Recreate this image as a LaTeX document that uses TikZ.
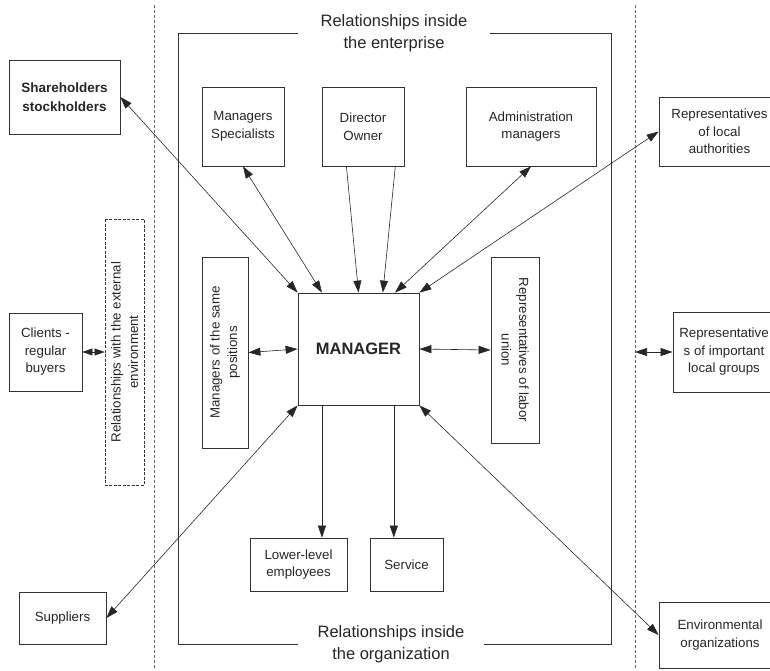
\documentclass[tikz,border=0pt]{standalone}
\usepackage{fontspec}
\setmainfont{Liberation Sans}
\usetikzlibrary{arrows.meta,calc}

\begin{document}
\begin{tikzpicture}[
    x=1pt, y=-1pt,
    font=\fontsize{13.3}{17.5}\selectfont,
    text=black!85,
    box/.style={rectangle, draw=black!80, line width=0.8pt,
      align=center, inner sep=2pt},
    title/.style={font=\fontsize{16.5}{21.5}\selectfont,
      align=center, inner sep=0pt},
    frame/.style={draw=black!80, line width=0.8pt},
    border/.style={draw=black!60, line width=0.6pt, dash pattern=on 3pt off 2pt},
    arr/.style={-{Triangle[length=12pt,width=8pt]}, line width=0.6pt, draw=black!85},
    darr/.style={{Triangle[length=12pt,width=8pt]}-{Triangle[length=12pt,width=8pt]},
      line width=0.6pt, draw=black!85},
    sarr/.style={{Triangle[length=10pt,width=7pt]}-{Triangle[length=10pt,width=7pt]},
      line width=0.6pt, draw=black!85}
  ]
    \useasboundingbox (0,0) rectangle (770,670);

    \coordinate (ltop) at (154,5);
    \coordinate (lbot) at (154,670);
    \coordinate (rtop) at (635,5);
    \coordinate (rbot) at (635,670);
    \draw[border] (ltop) -- (lbot);
    \draw[border] (rtop) -- (rbot);

    \node[title, minimum width=192pt] (tent) at (394,33) {Relationships inside\\the enterprise};
    \node[title, minimum width=186pt] (torg) at (391,644) {Relationships inside\\the organization};
    \draw[frame] (tent.west) -- (178,33) -- (178,644) -- (torg.west);
    \draw[frame] (tent.east) -- (611,33) -- (611,644) -- (torg.east);

    \node[box, font=\fontsize{13.5}{18.5}\selectfont\bfseries,
      minimum width=111pt, minimum height=74pt] (share) at (64.5,97) {Shareholders\\stockholders};
    \node[box, minimum width=82pt, minimum height=79pt] (mspec) at (243,126.5) {Managers\\Specialists};
    \node[box, minimum width=82pt, minimum height=79pt] (dir) at (363,126.5) {Director\\Owner};
    \node[box, minimum width=130pt, minimum height=79pt] (adm) at (531,126.5) {Administration\\managers};
    \node[box, minimum width=121pt, minimum height=69pt] (auth) at (719.5,131.5) {Representatives\\of local\\authorities};

    \node[box, minimum width=73pt, minimum height=78pt] (clients) at (45.5,352) {Clients -\\regular\\buyers};
    \node[box, dash pattern=on 3pt off 1.5pt, rotate=90,
      minimum width=266pt, minimum height=39pt] (ext) at (124.5,352) {Relationships with the external\\environment};
    \node[box, rotate=90, minimum width=191pt, minimum height=46pt] (same) at (225,352.5) {Managers of the same\\positions};
    \node[box, font=\fontsize{16.5}{20}\selectfont\bfseries,
      minimum width=121pt, minimum height=112pt] (mgr) at (358.5,349) {MANAGER};
    \node[box, rotate=-90, minimum width=186pt, minimum height=48pt] (union) at (515,350) {Representatives of labor\\union};
    \node[box, minimum width=102pt, minimum height=80pt] (groups) at (724,352) {Representative\\s of important\\local groups};

    \node[box, minimum width=97pt, minimum height=53pt] (lower) at (298.5,564.5) {Lower-level\\employees};
    \node[box, minimum width=73pt, minimum height=53pt] (serv) at (406.5,564.5) {Service};
    \node[box, minimum width=87pt, minimum height=52pt] (supp) at (62.5,618) {Suppliers};
    \node[box, minimum width=122pt, minimum height=66pt] (env) at (720,635) {Environmental\\organizations};

    \coordinate (rmid) at (rtop |- groups.west);
    \coordinate (mlow) at ($(mgr.south west)!0.2!(mgr.south east)$);
    \coordinate (mserv) at ($(mgr.south west)!0.79!(mgr.south east)$);

    \draw[darr] (share.east) -- (mgr.north west);
    \draw[darr] (mspec.south) -- ($(mgr.north west)!0.2!(mgr.north east)$);
    \draw[arr] ($(dir.south west)!0.3!(dir.south east)$) -- ($(mgr.north west)!0.5!(mgr.north east)$);
    \draw[arr] ($(dir.south west)!0.89!(dir.south east)$) -- ($(mgr.north west)!0.7!(mgr.north east)$);
    \draw[darr] (adm.south) -- ($(mgr.north west)!0.8!(mgr.north east)$);
    \draw[darr] (auth.west) -- (mgr.north east);
    \draw[darr] (same.south) -- (mgr.west);
    \draw[darr] (mgr.east) -- (union.south);
    \draw[sarr] (clients.east) -- (ext.north);
    \draw[darr] (rmid) -- (groups.west);
    \draw[arr] (mlow) -- (mlow |- lower.north);
    \draw[arr] (mserv) -- (mserv |- serv.north);
    \draw[darr] (supp.east) -- (mgr.south west);
    \draw[darr] (mgr.south east) -- (env.west);
  \end{tikzpicture}
\end{document}
